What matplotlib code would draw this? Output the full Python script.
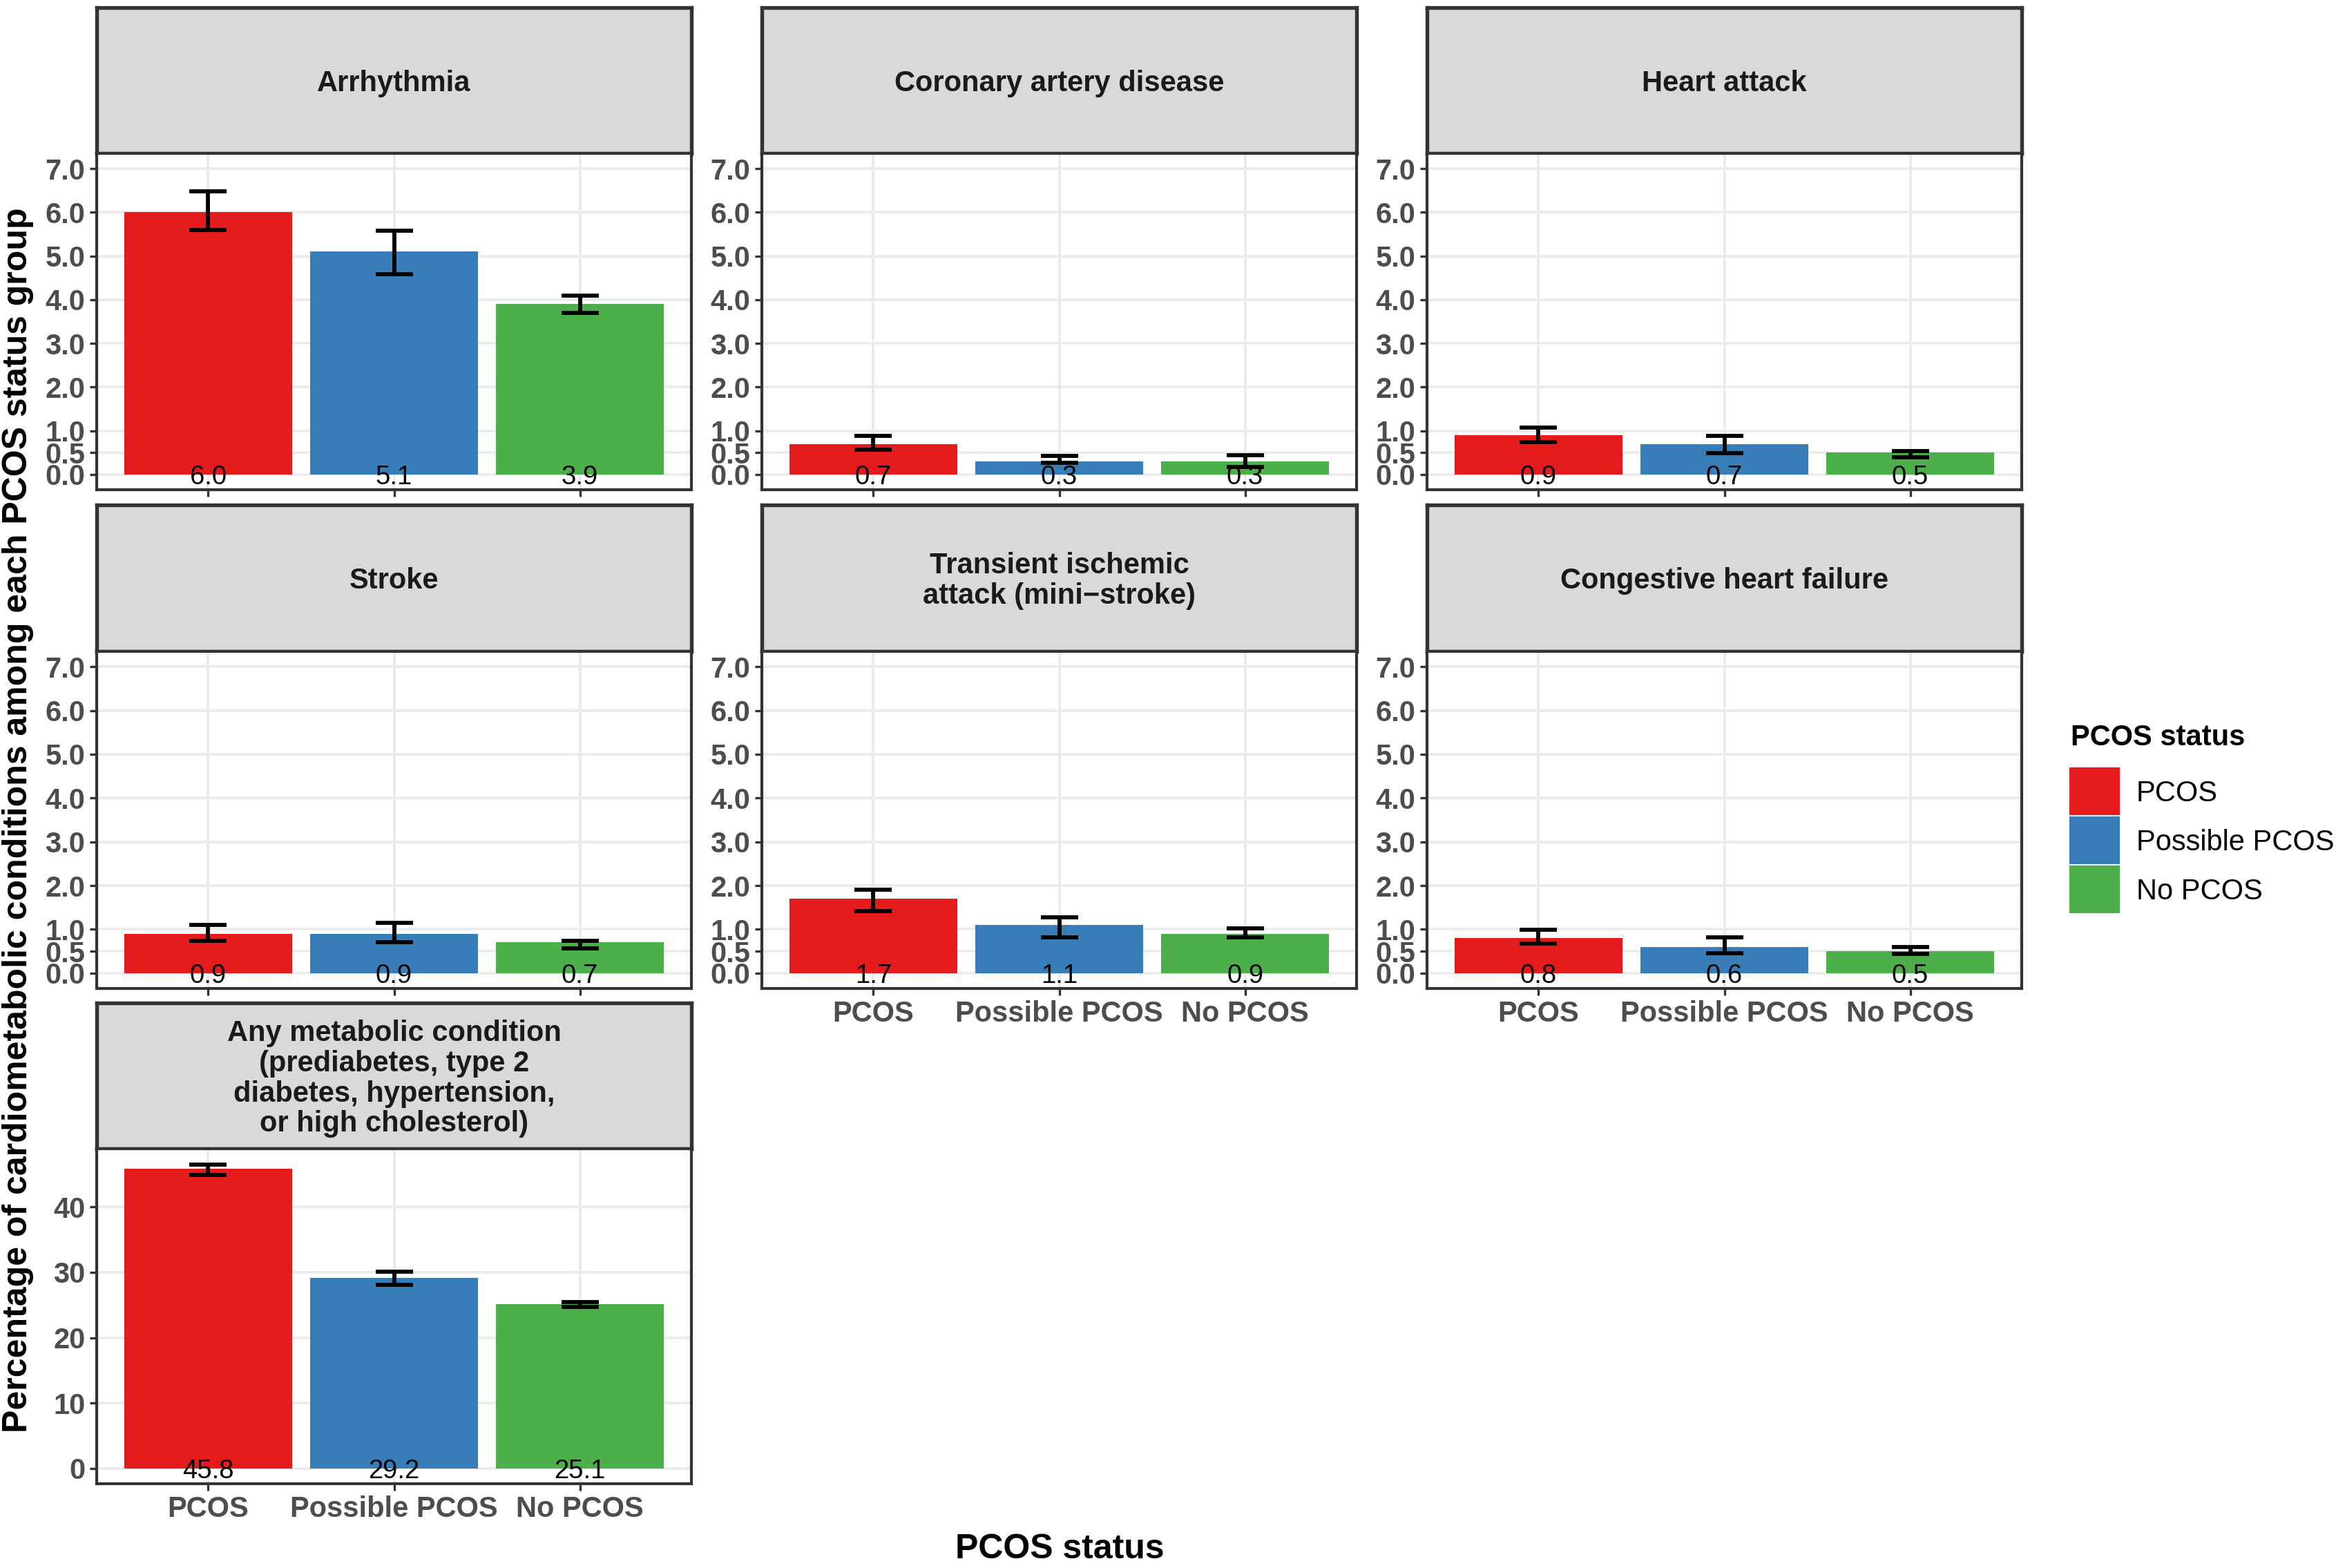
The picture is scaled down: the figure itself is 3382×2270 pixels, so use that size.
"""Faceted bar chart of cardiometabolic conditions by PCOS status,
laid out like a ggplot facet_wrap with theme_bw."""
import matplotlib
matplotlib.use("Agg")
import matplotlib.pyplot as plt
from matplotlib.patches import Rectangle

plt.rcParams['font.family'] = ['Liberation Sans', 'DejaVu Sans']

# data
groups = ["PCOS", "Possible PCOS", "No PCOS"]
colors = ["#E41A1C", "#377EB8", "#4DAF4A"]
conditions = [
    "Arrhythmia",
    "Coronary artery disease",
    "Heart attack",
    "Stroke",
    "Transient ischemic\nattack (mini\u2212stroke)",
    "Congestive heart failure",
    "Any metabolic condition\n(prediabetes, type 2\ndiabetes, hypertension,\nor high cholesterol)",
]
pct = [
    [6.0, 5.1, 3.9],
    [0.7, 0.3, 0.3],
    [0.9, 0.7, 0.5],
    [0.9, 0.9, 0.7],
    [1.7, 1.1, 0.9],
    [0.8, 0.6, 0.5],
    [45.8, 29.2, 25.1],
]
ci_low = [
    [5.59, 4.58, 3.70],
    [0.57, 0.26, 0.17],
    [0.74, 0.49, 0.40],
    [0.74, 0.71, 0.57],
    [1.42, 0.81, 0.81],
    [0.67, 0.45, 0.44],
    [44.9, 28.1, 24.7],
]
ci_high = [
    [6.48, 5.58, 4.09],
    [0.88, 0.43, 0.44],
    [1.08, 0.88, 0.54],
    [1.10, 1.15, 0.74],
    [1.90, 1.28, 1.02],
    [0.99, 0.81, 0.59],
    [46.5, 30.1, 25.5],
]
small_ticks = [0, 0.5, 1, 2, 3, 4, 5, 6, 7]
big_ticks = [0, 10, 20, 30, 40]

W, H = 3382, 2270
fig = plt.figure(figsize=(W / 300, H / 300), dpi=300)

# panel boxes in pixels: (left, right) per column, (strip top, strip bottom, plot bottom) per row
cols = [(140, 1001), (1103, 1964), (2066, 2927)]
rows = [(11, 222, 709), (731, 943, 1431), (1452, 1663, 2148)]
cells = [(0, 0), (0, 1), (0, 2), (1, 0), (1, 1), (1, 2), (2, 0)]
bottom_row = {(2, 0), (1, 1), (1, 2)}

border = "#333333"
tick_gray = "#4D4D4D"


def frac(x0, x1, y0, y1):
    return [x0 / W, 1 - y1 / H, (x1 - x0) / W, (y1 - y0) / H]


for i, (r, c) in enumerate(cells):
    x0, x1 = cols[c]
    s0, s1, p1 = rows[r]

    # strip
    sax = fig.add_axes(frac(x0, x1, s0, s1))
    sax.set_facecolor("#D9D9D9")
    sax.set_xticks([])
    sax.set_yticks([])
    for sp in sax.spines.values():
        sp.set_color(border)
        sp.set_linewidth(1.3)
    sax.text(0.5, 0.48, conditions[i], ha="center", va="center",
             fontsize=10, fontweight="bold", color="#1A1A1A",
             linespacing=1.12, transform=sax.transAxes)

    ax = fig.add_axes(frac(x0, x1, s1, p1))
    xs = range(len(groups))
    ax.bar(xs, pct[i], width=0.9, color=colors, zorder=2)
    err_lo = [v - l for v, l in zip(pct[i], ci_low[i])]
    err_hi = [h - v for v, h in zip(pct[i], ci_high[i])]
    ax.errorbar(xs, pct[i], yerr=[err_lo, err_hi], fmt="none",
                ecolor="black", elinewidth=1.4, capsize=6.5,
                capthick=1.4, zorder=3)
    for x, v in zip(xs, pct[i]):
        ax.text(x, 0, f"{v:.1f}", ha="center", va="center_baseline",
                fontsize=9.2, color="black", zorder=4)

    if i < 6:
        ax.set_ylim(-0.35, 7.35)
        ax.set_yticks(small_ticks)
        ax.set_yticklabels([f"{t:.1f}" for t in small_ticks])
    else:
        ax.set_ylim(-2.33, 48.9)
        ax.set_yticks(big_ticks)
    ax.set_xlim(-0.6, 2.6)
    ax.set_xticks(list(xs))
    if (r, c) in bottom_row:
        ax.set_xticklabels(groups)
    else:
        ax.set_xticklabels([])
        ax.tick_params(axis="x", length=0)

    ax.grid(True, color="#EBEBEB", linewidth=0.9, zorder=0)
    ax.set_axisbelow(True)
    ax.tick_params(axis="both", colors=border, labelcolor=tick_gray,
                   labelsize=10, width=0.8, length=2.5, pad=1.5)
    for lab in ax.get_xticklabels() + ax.get_yticklabels():
        lab.set_fontweight("bold")
    for sp in ax.spines.values():
        sp.set_color(border)
        sp.set_linewidth(1.0)

# axis titles
fig.text(1534 / W, 1 - 2243 / H, "PCOS status", ha="center", va="center",
         fontsize=12, fontweight="bold")
fig.text(26 / W, 1 - 1187 / H,
         "Percentage of cardiometabolic conditions among each PCOS status group",
         ha="center", va="center", rotation=90, fontsize=12, fontweight="bold")

# legend
fig.text(2998 / W, 1 - 1068 / H, "PCOS status", ha="left", va="center",
         fontsize=10, fontweight="bold")
key_tops = [1113, 1184, 1255]
for g, col, top in zip(groups, colors, key_tops):
    fig.patches.append(Rectangle((2998 / W, 1 - (top + 65) / H), 69 / W, 65 / H,
                                 transform=fig.transFigure, color=col))
    fig.text(3093 / W, 1 - (top + 36) / H, g, ha="left", va="center",
             fontsize=10)

fig.savefig("out.png", dpi=300, facecolor="white")
